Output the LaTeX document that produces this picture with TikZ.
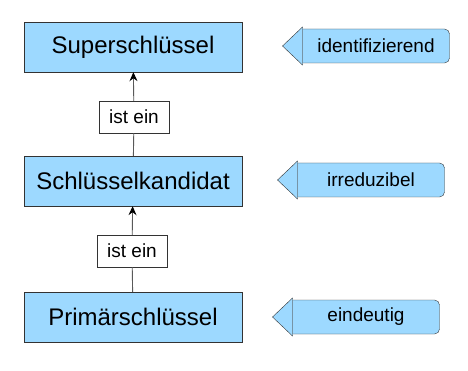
\documentclass[tikz,border=0pt]{standalone}
\usepackage{fontspec}
\setmainfont{Liberation Sans}
\usetikzlibrary{arrows.meta, positioning, calc}

\definecolor{keyblue}{RGB}{157,217,255}

\tikzset{
  keybox/.style={draw=black!80, fill=keyblue, minimum width=218pt, minimum height=50pt, font=\fontsize{24}{28}\selectfont},
  isalabel/.style={draw=black!80, fill=white, minimum width=70pt, minimum height=32pt, inner sep=0pt, font=\fontsize{19}{22}\selectfont},
  tagtext/.style={inner sep=0pt, font=\fontsize{19}{22}\selectfont},
  tagline/.style={draw=black!80, fill=keyblue},
  isa/.style={draw=black!65, line width=0.9pt, -{Stealth[length=9pt, width=8pt, inset=3pt, black]}}
}

\begin{document}
\begin{tikzpicture}[x=1pt, y=-1pt]
  \useasboundingbox (0,0) rectangle (468,371);

  % key types
  \node[keybox] (super) at (133,47) {Superschlüssel};
  \node[keybox] (cand) at (133,181) {Schlüsselkandidat};
  \node[keybox] (prim) at (133,317) {Primärschlüssel};

  % is-a relations
  \node[isalabel] (isa1) at (134,117) {ist ein};
  \node[isalabel] (isa2) at (132,251) {ist ein};
  \draw[isa] (isa1) -- (super);
  \draw[draw=black!65, line width=0.9pt] (cand) -- (isa1);
  \draw[isa] (isa2) -- (cand);
  \draw[draw=black!65, line width=0.9pt] (prim) -- (isa2);

  % properties
  \foreach \name/\x/\y/\txt in {t1/376/46/identifizierend, t2/371/180/irreduzibel, t3/366/317/eindeutig} {
    \coordinate (\name) at (\x,\y);
    \draw[tagline] ($(\name)+(-73.5,-17)$) -- ($(\name)+(-73.5,17)$) -- ($(\name)+(68.5,17)$)
      arc[start angle=-90, end angle=0, radius=5pt] -- ($(\name)+(73.5,-12)$)
      arc[start angle=0, end angle=90, radius=5pt] -- cycle;
    \draw[tagline] ($(\name)+(-73.5,-19)$) -- ($(\name)+(-93.5,0)$) -- ($(\name)+(-73.5,19)$) -- cycle;
    \node[tagtext] (\name-text) at (\name) {\txt};
  }
\end{tikzpicture}
\end{document}
